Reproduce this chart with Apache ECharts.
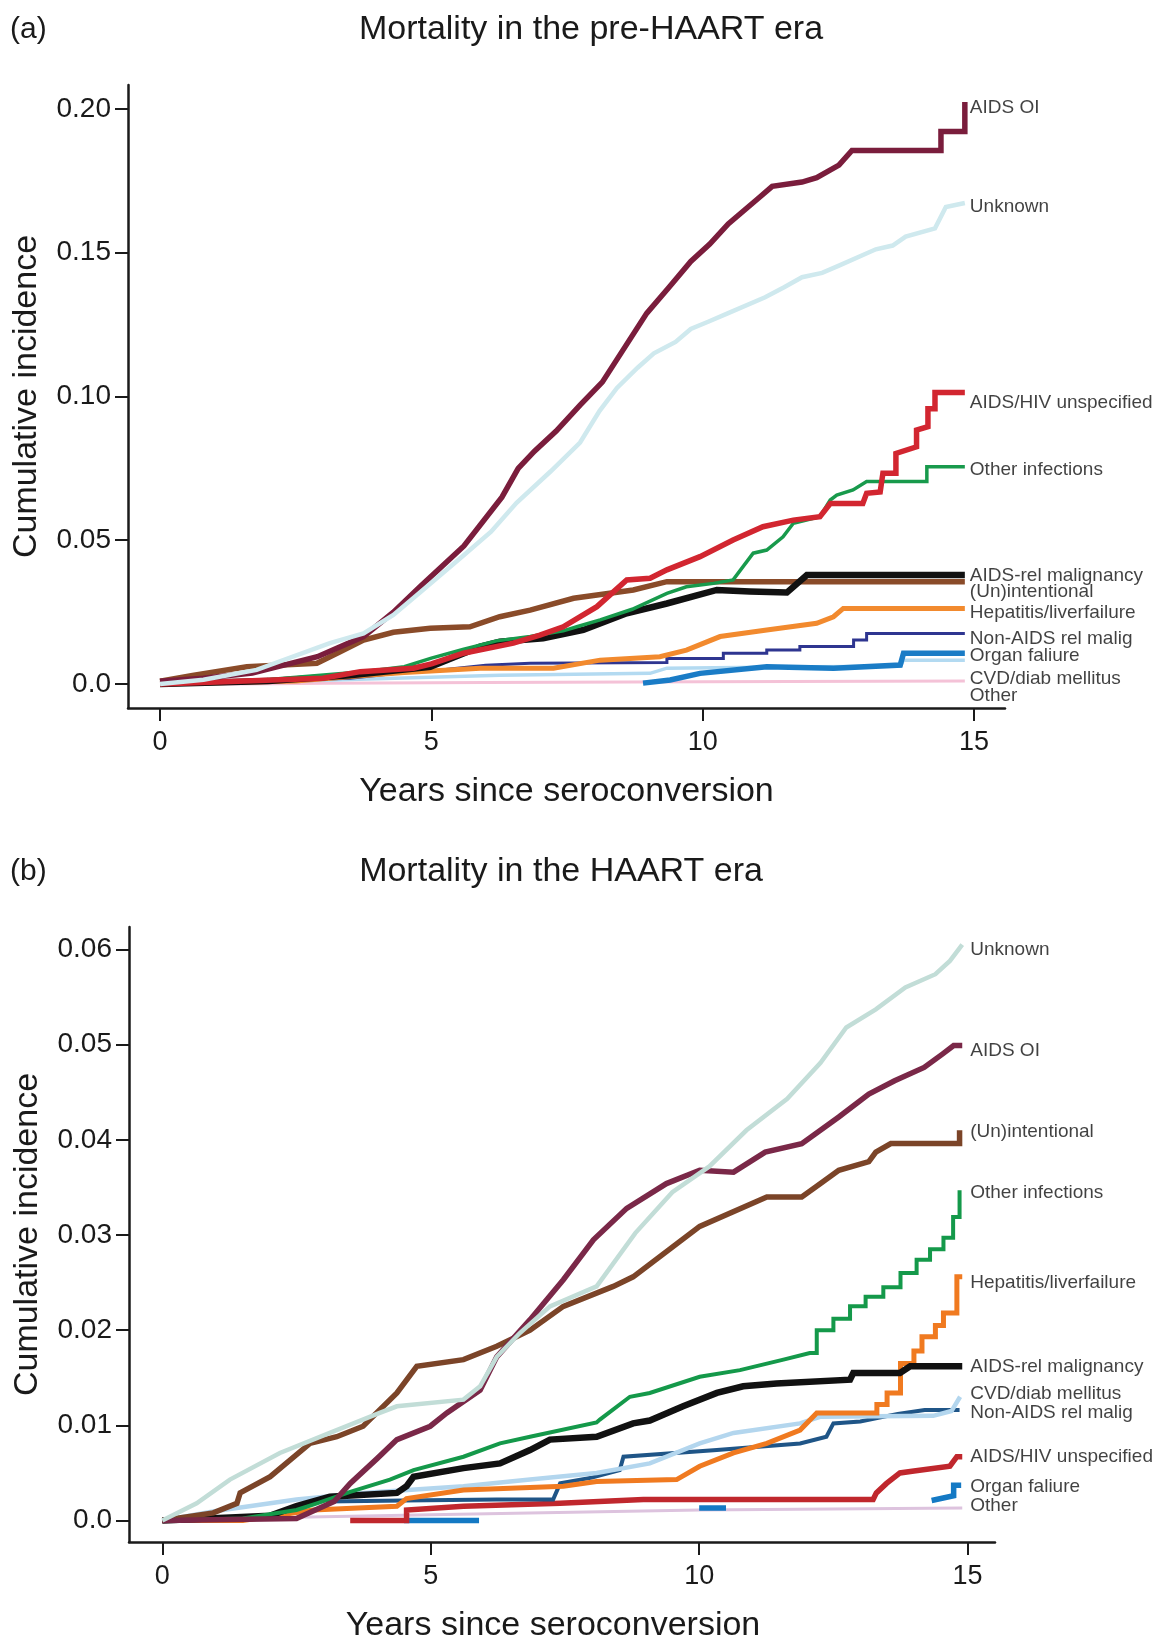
<!DOCTYPE html>
<html>
<head>
<meta charset="utf-8">
<script src="https://cdn.jsdelivr.net/npm/echarts@6/dist/echarts.min.js"></script>
<style>
html,body{margin:0;padding:0;background:#fff;}
#chart{width:1160px;height:1641px;}
</style>
</head>
<body>
<div id="chart"></div>
<script>
// ---------- DATA ----------
const xTicks = [0, 5, 10, 15];
const yTicksA = [0, 0.05, 0.10, 0.15, 0.20];
const yTicksB = [0, 0.01, 0.02, 0.03, 0.04, 0.05, 0.06];

const causeNames = ["AIDS OI", "Unknown", "AIDS/HIV unspecified", "Other infections",
  "AIDS-rel malignancy", "(Un)intentional", "Hepatitis/liverfailure",
  "Non-AIDS rel malig", "Organ faliure", "CVD/diab mellitus", "Other"];

// Panel (a) pre-HAART era: [years, cumulative incidence]
const aAidsOI = [[0,0.001],[0.8,0.002],[1.7,0.0038],[2.9,0.0095],[3.75,0.0165],[4.3,0.025],[4.8,0.034],[5.6,0.048],[6.3,0.065],[6.6,0.075],[6.9,0.081],[7.3,0.088],[7.74,0.097],[8.15,0.105],[8.56,0.117],[8.97,0.129],[9.38,0.138],[9.78,0.147],[10.13,0.153],[10.47,0.160],[11.01,0.1687],[11.28,0.1731],[11.83,0.1746],[12.1,0.1761],[12.51,0.1805],[12.75,0.1856],[14.39,0.1856],[14.39,0.1922],[14.83,0.1922],[14.83,0.2024]];
const aUnknown = [[0,0],[0.8,0.0015],[1.78,0.0049],[3.13,0.0142],[3.75,0.0176],[4.3,0.024],[4.79,0.0318],[5.58,0.0445],[6.1,0.053],[6.57,0.063],[7.2,0.074],[7.74,0.084],[8.1,0.095],[8.42,0.103],[8.8,0.110],[9.1,0.115],[9.5,0.119],[9.78,0.1235],[10.1,0.126],[10.47,0.129],[11.15,0.1345],[11.5,0.138],[11.83,0.1415],[12.2,0.143],[12.51,0.1455],[13.19,0.1512],[13.5,0.1525],[13.74,0.1556],[14.28,0.1585],[14.48,0.1659],[14.83,0.1673]];
const aAidsHiv = [[0,0],[3.0,0.002],[3.69,0.0043],[4.67,0.0055],[5.0,0.007],[5.59,0.0107],[6.51,0.0142],[7.0,0.017],[7.43,0.0199],[8.05,0.0269],[8.6,0.0362],[9.03,0.0368],[9.34,0.0397],[9.95,0.0443],[10.56,0.0501],[11.11,0.0547],[11.67,0.057],[12.16,0.0582],[12.35,0.0628],[12.95,0.0628],[13.02,0.0663],[13.27,0.0668],[13.32,0.0733],[13.56,0.0733],[13.56,0.0802],[13.94,0.0825],[13.94,0.0883],[14.15,0.0895],[14.15,0.0957],[14.28,0.0957],[14.28,0.1014],[14.83,0.1014]];
const aOtherInf = [[0,0],[1.0,0.0005],[1.9,0.0014],[3.74,0.0043],[4.5,0.006],[5.0,0.009],[5.58,0.012],[6.2,0.015],[6.82,0.0165],[7.43,0.0185],[7.68,0.0199],[8.11,0.0223],[8.7,0.026],[9.34,0.0315],[9.7,0.0338],[10.2,0.035],[10.56,0.0362],[10.93,0.0455],[11.18,0.0466],[11.48,0.0512],[11.67,0.0559],[12.16,0.0582],[12.35,0.064],[12.47,0.0657],[12.77,0.0675],[13.02,0.0704],[14.13,0.0704],[14.13,0.0756],[14.83,0.0756]];
const aAidsMalig = [[0,0],[2.0,0.001],[3.5,0.003],[4.98,0.006],[5.9,0.013],[6.26,0.0147],[7.06,0.0159],[7.8,0.0188],[8.6,0.0246],[9.34,0.028],[10.26,0.0327],[10.87,0.0322],[11.55,0.0318],[11.67,0.0338],[11.92,0.0379],[14.83,0.0379]];
const aUnintent = [[0,0.001],[0.6,0.003],[1.6,0.006],[2.89,0.0072],[3.3,0.011],[3.75,0.0153],[4.3,0.018],[4.98,0.0194],[5.71,0.0199],[6.26,0.0234],[6.82,0.0257],[7.62,0.0298],[8.72,0.0327],[9.34,0.0356],[14.83,0.0356]];
const aHepatitis = [[0,0],[2.5,0.001],[3.8,0.003],[4.5,0.004],[5.9,0.0055],[7.25,0.0055],[8.11,0.0083],[9.21,0.0095],[9.7,0.0118],[10.32,0.0165],[11.18,0.0188],[12.1,0.0211],[12.41,0.0234],[12.59,0.0263],[14.83,0.0263]];
const aNonAids = [[0,0],[2.0,0.001],[3.5,0.002],[4.5,0.004],[5.0,0.0045],[6.0,0.0065],[6.82,0.0072],[9.34,0.0075],[9.34,0.0089],[10.38,0.0089],[10.38,0.0107],[11.18,0.0107],[11.18,0.0118],[11.79,0.0118],[11.79,0.013],[12.78,0.013],[12.78,0.0153],[13.02,0.0153],[13.02,0.0176],[14.83,0.0176]];
const aOrgan = [[8.9,0.0003],[9.4,0.0014],[9.95,0.0037],[11.18,0.006],[12.41,0.0055],[13.64,0.0066],[13.7,0.0107],[14.83,0.0107]];
const aCvd = [[0,0],[2.0,0.0008],[4.0,0.0018],[6.26,0.003],[9.03,0.0037],[9.34,0.0055],[12.0,0.006],[13.64,0.0062],[13.7,0.0083],[14.83,0.0083]];
const aOther = [[0,0],[1.6,0],[3.0,0.0003],[6.0,0.0005],[10,0.0008],[14.83,0.001]];

// Panel (b) HAART era
const bAidsOI = [[0,0],[2.5,0.0002],[3.2,0.002],[3.5,0.0039],[4.0,0.0065],[4.37,0.0085],[4.99,0.0099],[5.3,0.0113],[5.92,0.0137],[6.23,0.0172],[6.85,0.0211],[7.47,0.0253],[8.03,0.0295],[8.65,0.0328],[9.39,0.0354],[10.01,0.0368],[10.64,0.0366],[11.23,0.0387],[11.91,0.0396],[12.6,0.0424],[13.16,0.0448],[13.64,0.0462],[14.19,0.0476],[14.53,0.049],[14.74,0.0499],[14.9,0.0499]];
const bUnknown = [[0,0],[0.64,0.0018],[1.26,0.0043],[2.19,0.0071],[3.12,0.0092],[4.05,0.0113],[4.37,0.012],[5.61,0.0127],[5.92,0.0141],[6.23,0.0172],[6.66,0.0197],[7.22,0.0225],[8.09,0.0246],[8.81,0.0302],[9.5,0.0345],[10.19,0.0372],[10.88,0.041],[11.64,0.0443],[12.26,0.0481],[12.74,0.0518],[13.29,0.0537],[13.84,0.056],[14.4,0.0574],[14.67,0.0588],[14.9,0.0605]];
const bUnintent = [[0,0],[0.95,0.0008],[1.39,0.0018],[1.45,0.0029],[2.01,0.0046],[2.75,0.0081],[3.25,0.0088],[3.74,0.0099],[4.37,0.0134],[4.74,0.0162],[5.61,0.0169],[6.23,0.0183],[6.85,0.02],[7.47,0.0225],[8.4,0.0246],[8.77,0.0256],[10.01,0.0309],[11.26,0.034],[11.91,0.034],[12.26,0.0354],[12.6,0.0368],[13.16,0.0377],[13.29,0.0387],[13.57,0.0396],[14.85,0.0396],[14.85,0.041]];
const bOtherInf = [[0,0],[1.5,0.0002],[2.5,0.0011],[2.88,0.0018],[3.5,0.003],[4.24,0.0043],[4.68,0.0053],[5.61,0.0067],[6.29,0.0081],[6.85,0.0088],[8.09,0.0103],[8.15,0.0106],[8.71,0.013],[9.08,0.0134],[10.01,0.0151],[10.76,0.0158],[11.57,0.0169],[12.06,0.0176],[12.19,0.0176],[12.19,0.02],[12.5,0.02],[12.5,0.0212],[12.81,0.0212],[12.81,0.0225],[13.1,0.0225],[13.1,0.0235],[13.43,0.0235],[13.43,0.0245],[13.75,0.0245],[13.75,0.026],[14.05,0.026],[14.05,0.0274],[14.3,0.0274],[14.3,0.0285],[14.55,0.0285],[14.55,0.0297],[14.73,0.0297],[14.73,0.0319],[14.85,0.0319],[14.85,0.0347]];
const bHepatitis = [[0,0],[1.5,0],[2.81,0.0011],[4.37,0.0015],[4.55,0.0023],[5.61,0.0032],[7.47,0.0036],[8.09,0.0041],[9.58,0.0043],[10.01,0.0057],[10.64,0.0071],[11.26,0.0081],[11.88,0.0095],[12.19,0.0113],[13.31,0.0113],[13.31,0.0122],[13.5,0.0122],[13.5,0.0134],[13.75,0.0134],[13.75,0.0165],[14.0,0.0165],[14.0,0.0178],[14.15,0.0178],[14.15,0.0193],[14.4,0.0193],[14.4,0.0205],[14.55,0.0205],[14.55,0.0218],[14.8,0.0218],[14.8,0.0256],[14.9,0.0256]];
const bAidsMalig = [[0,0],[2.0,0.0005],[2.5,0.0015],[3.12,0.0025],[4.37,0.0029],[4.55,0.0036],[4.68,0.0046],[5.61,0.0055],[6.29,0.006],[6.85,0.0074],[7.22,0.0085],[8.09,0.0088],[8.77,0.0102],[9.08,0.0105],[9.7,0.012],[10.33,0.0134],[10.82,0.0141],[11.44,0.0144],[12.81,0.0148],[12.87,0.0155],[13.74,0.0155],[13.93,0.0162],[14.9,0.0162]];
const bCvd = [[0,0],[1.0,0.001],[2.5,0.0022],[3.74,0.0029],[5.61,0.0036],[6.85,0.0043],[8.09,0.005],[9.08,0.006],[10.01,0.0081],[10.64,0.0092],[11.88,0.0102],[12.25,0.0109],[14.36,0.011],[14.7,0.0115],[14.86,0.013]];
const bNonAids = [[3.05,0.002],[4.5,0.0021],[6.23,0.0022],[7.28,0.0022],[7.41,0.0039],[8.0,0.0045],[8.52,0.0053],[8.59,0.0067],[10.33,0.0074],[11.88,0.0081],[12.37,0.0088],[12.5,0.0102],[13.0,0.0104],[13.7,0.0112],[14.2,0.0116],[14.85,0.0116]];
const bAidsHiv = [[3.5,0],[4.55,0],[4.55,0.0011],[5.61,0.0015],[7.41,0.0018],[8.96,0.0022],[13.24,0.0022],[13.3,0.0029],[13.49,0.0039],[13.74,0.005],[14.0,0.0052],[14.67,0.0057],[14.8,0.0067],[14.9,0.0067]];
const bOrgan = [[4.5,0],[5.9,0],[7.0,null],[10.0,0.0013],[10.5,0.0013],[12.0,null],[14.33,0.0021],[14.74,0.0026],[14.74,0.0037],[14.88,0.0037]];
const bOther = [[0,0],[2,0.0003],[5,0.0006],[10,0.0011],[14.9,0.0013]];

// Label anchors (values where the right-hand text labels sit)
const labelValsA = [0.2003, 0.1659, 0.0977, 0.0744, 0.0377, 0.0320, 0.0247, 0.0157, 0.0099, 0.0017, -0.0040];
const labelValsB = [0.0494, 0.0600, 0.0067, 0.0344, 0.0161, 0.0408, 0.0250, 0.0113, 0.0035, 0.0133, 0.0015];

// ---------- STYLE ----------
const FONT = '"Liberation Sans", Arial, Helvetica, sans-serif';
const TXT = '#1a1a1a';

// [name, data, color, width] drawn in this order (last on top)
const seriesA = [
  ["Other", aOther, '#f4c2d7', 3],
  ["CVD/diab mellitus", aCvd, '#b3daf1', 3.5],
  ["Organ faliure", aOrgan, '#1a7cc6', 5.5],
  ["Non-AIDS rel malig", aNonAids, '#2e3590', 3],
  ["Hepatitis/liverfailure", aHepatitis, '#f28a2e', 5],
  ["(Un)intentional", aUnintent, '#8a4b29', 5.5],
  ["AIDS-rel malignancy", aAidsMalig, '#111111', 6.5],
  ["Other infections", aOtherInf, '#189a4c', 3.5],
  ["AIDS/HIV unspecified", aAidsHiv, '#d22630', 5.5],
  ["AIDS OI", aAidsOI, '#7a1d3c', 5.5],
  ["Unknown", aUnknown, '#cfe9ee', 4.5]
];
const seriesB = [
  ["Other", bOther, '#ddc3de', 3],
  ["Organ faliure", bOrgan, '#1479c4', 5.5],
  ["AIDS/HIV unspecified", bAidsHiv, '#c0272d', 5.5],
  ["Non-AIDS rel malig", bNonAids, '#1f5587', 4],
  ["CVD/diab mellitus", bCvd, '#b3d6ee', 4.5],
  ["Hepatitis/liverfailure", bHepatitis, '#f07a20', 5],
  ["AIDS-rel malignancy", bAidsMalig, '#111111', 6.5],
  ["Other infections", bOtherInf, '#14994a', 4],
  ["(Un)intentional", bUnintent, '#7b4428', 5.5],
  ["AIDS OI", bAidsOI, '#7a2848', 5.5],
  ["Unknown", bUnknown, '#c2ddd7', 4.5]
];

function lineSeries(spec, idx) {
  return spec.map(s => ({
    type: 'line', name: s[0], xAxisIndex: idx, yAxisIndex: idx,
    data: s[1], showSymbol: false, symbol: 'none', smooth: false, connectNulls: false,
    lineStyle: { color: s[2], width: s[3], cap: 'butt', join: 'miter' },
    itemStyle: { color: s[2] }, emphasis: { disabled: true }, silent: true, animation: false
  }));
}
function labelSeries(vals, xEnd, dist, idx) {
  return {
    type: 'scatter', xAxisIndex: idx, yAxisIndex: idx, symbolSize: 0, silent: true, animation: false,
    data: causeNames.map((n, i) => ({ name: n, value: [xEnd, vals[i]] })),
    label: { show: true, position: 'right', distance: dist, formatter: '{b}',
      fontFamily: FONT, fontSize: 19, color: '#111' },
    z: 10
  };
}
function xAxis(idx, min, max, gap) {
  return {
    type: 'value', gridIndex: idx, min: min, max: max,
    name: 'Years since seroconversion', nameLocation: 'middle', nameGap: gap,
    nameTextStyle: { fontFamily: FONT, fontSize: 34, color: TXT, padding: idx === 1 ? [0, 18, 0, 0] : 0 },
    axisLine: { show: true, onZero: false, lineStyle: { color: TXT, width: 2.5 } },
    axisTick: { show: true, customValues: xTicks, length: 13, lineStyle: { color: TXT, width: 2 } },
    axisLabel: { customValues: xTicks, margin: 21, fontFamily: FONT, fontSize: 27, color: TXT },
    splitLine: { show: false }
  };
}
function yAxis(idx, min, max, ticks) {
  return {
    type: 'value', gridIndex: idx, min: min, max: max,
    name: 'Cumulative incidence', nameLocation: 'middle', nameGap: 84, nameRotate: 90,
    nameTextStyle: { fontFamily: FONT, fontSize: 34, color: TXT },
    axisLine: { show: true, onZero: false, lineStyle: { color: TXT, width: 2.5 } },
    axisTick: { show: true, customValues: ticks, length: 13, lineStyle: { color: TXT, width: 2 } },
    axisLabel: { customValues: ticks, margin: 17, fontFamily: FONT, fontSize: 28, color: TXT,
      formatter: v => (Math.abs(v) < 1e-9 ? '0.0' : v.toFixed(2)) },
    splitLine: { show: false }
  };
}

const chart = echarts.init(document.getElementById('chart'), null, { renderer: 'canvas' });
chart.setOption({
  backgroundColor: '#fff',
  animation: false,
  grid: [
    { left: 128, top: 85, width: 877, height: 623, containLabel: false, outerBoundsMode: 'none' },
    { left: 129, top: 927, width: 866, height: 615, containLabel: false, outerBoundsMode: 'none' }
  ],
  xAxis: [xAxis(0, -0.59, 15.57, 67), xAxis(1, -0.62, 15.51, 67)],
  yAxis: [yAxis(0, -0.00835, 0.20835, yTicksA), yAxis(1, -0.00226, 0.06236, yTicksB)],
  graphic: [
    { type: 'text', x: 591, y: 30, style: { text: 'Mortality in the pre-HAART era', font: '34px ' + FONT, fill: TXT, textAlign: 'center', textVerticalAlign: 'middle' } },
    { type: 'text', x: 10, y: 30, style: { text: '(a)', font: '30px ' + FONT, fill: TXT, textAlign: 'left', textVerticalAlign: 'middle' } },
    { type: 'text', x: 561, y: 872, style: { text: 'Mortality in the HAART era', font: '34px ' + FONT, fill: TXT, textAlign: 'center', textVerticalAlign: 'middle' } },
    { type: 'text', x: 10, y: 872, style: { text: '(b)', font: '30px ' + FONT, fill: TXT, textAlign: 'left', textVerticalAlign: 'middle' } }
  ],
  series: [].concat(
    lineSeries(seriesA, 0),
    lineSeries(seriesB, 1),
    [labelSeries(labelValsA, 14.83, 5, 0), labelSeries(labelValsB, 14.9, 8, 1)]
  )
});
</script>
</body>
</html>
